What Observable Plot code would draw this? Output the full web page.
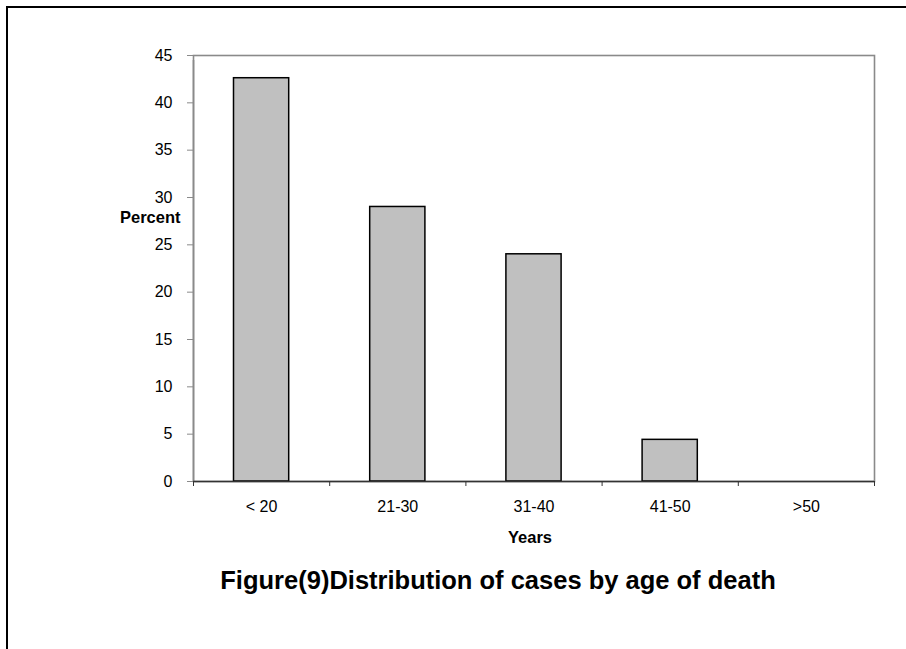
<!DOCTYPE html>
<html>
<head>
<meta charset="utf-8">
<script src="https://cdn.jsdelivr.net/npm/d3@7"></script>
<script src="https://cdn.jsdelivr.net/npm/@observablehq/plot@0.6"></script>
<style>
  html, body { margin: 0; padding: 0; background: #fff; }
  #wrap { position: relative; width: 906px; height: 649px; overflow: hidden; }
  #border { position: absolute; left: 6px; top: 6px; width: 1000px; height: 1000px;
            border-left: 2px solid #000; border-top: 2px solid #000; }
  #chart { position: absolute; left: 0; top: 0; }
</style>
</head>
<body>
<div id="wrap"><div id="border"></div><div id="chart"></div></div>
<script>
const categories = ["< 20", "21-30", "31-40", "41-50", ">50"];
const percents = [42.6, 29.0, 24.0, 4.4, 0];
const yTicks = [0, 5, 10, 15, 20, 25, 30, 35, 40, 45];
const yLabel = "Percent";
const xLabel = "Years";
const title = "Figure(9)Distribution of cases by age of death";

const data = categories.map((c, i) => ({cat: c, i, value: percents[i]}));
const boundaries = d3.range(categories.length + 1);
const centers = categories.map((c, i) => i + 0.5);
const font = "Liberation Sans, Arial, sans-serif";

const chart = Plot.plot({
  width: 906,
  height: 649,
  marginLeft: 193,
  marginRight: 32,
  marginTop: 55,
  marginBottom: 168,
  style: {fontFamily: font, fontSize: "16px", color: "#000", background: "transparent"},
  x: {type: "linear", domain: [0, categories.length]},
  y: {domain: [0, 45]},
  marks: [
    Plot.frame({stroke: "#8a8a8a", strokeWidth: 1.6}),
    Plot.rectY(data, {x1: "i", x2: d => d.i + 1, y: "value", insetLeft: 40.5, insetRight: 40.5,
      fill: "#c0c0c0", stroke: "#000", strokeWidth: 1.5}),
    Plot.axisY({ticks: yTicks, tickSize: 6, tickPadding: 15, stroke: "#8a8a8a", label: null,
      fill: "#000", fontSize: 16}),
    Plot.ruleX([0], {stroke: "#8a8a8a", strokeWidth: 1.6, y1: 0, y2: 45, insetBottom: -5}),
    Plot.ruleY([0], {stroke: "#333", strokeWidth: 1.6}),
    Plot.axisX({ticks: boundaries, tickSize: 5, tickFormat: () => "", stroke: "#333", label: null}),
    Plot.axisX({ticks: centers, tickSize: 0, tickPadding: 19, tickFormat: (d) => categories[Math.floor(d)],
      label: null, fill: "#000", fontSize: 16}),
    Plot.text([yLabel], {frameAnchor: "top-left", text: d => d, dx: -13, dy: 162, textAnchor: "end",
      lineAnchor: "middle", fontWeight: "bold", fontSize: 16.5, fill: "#000"}),
    Plot.text([xLabel], {frameAnchor: "bottom", text: d => d, dx: -4, dy: 56, lineAnchor: "middle",
      fontWeight: "bold", fontSize: 16.5, fill: "#000"}),
    Plot.text([title], {frameAnchor: "bottom", text: d => d, dx: -36, dy: 99, lineAnchor: "middle",
      fontWeight: "bold", fontSize: 25.5, fill: "#000"})
  ]
});
document.getElementById("chart").appendChild(chart);
</script>
</body>
</html>
